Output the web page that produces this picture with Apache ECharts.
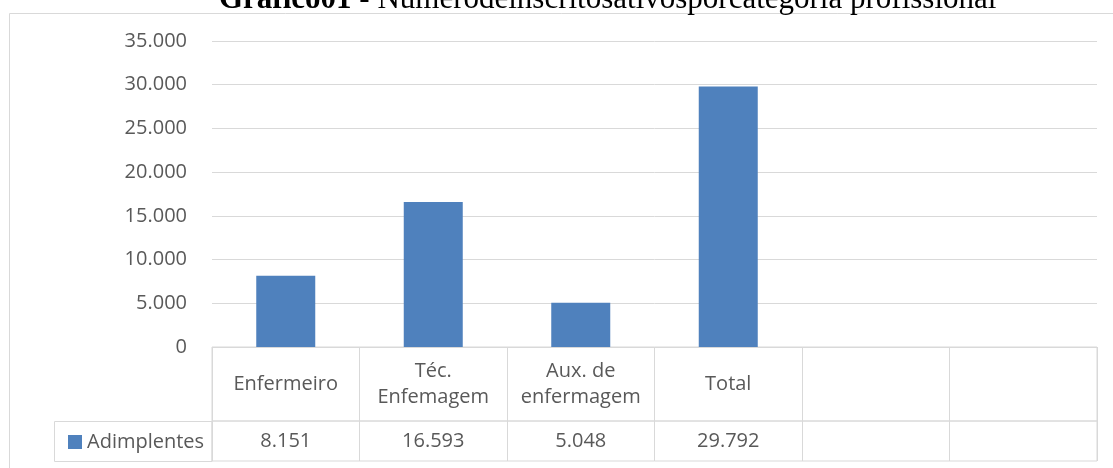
<!DOCTYPE html>
<html>
<head>
<meta charset="utf-8">
<script src="https://cdn.jsdelivr.net/npm/echarts@6/dist/echarts.min.js"></script>
<style>
  html, body { margin: 0; padding: 0; background: #fff; }
  #chart { width: 1113px; height: 468px; }
</style>
</head>
<body>
<div id="chart"></div>
<script>
// chart data
var categories = ['Enfermeiro', 'Téc.\nEnfemagem', 'Aux. de\nenfermagem', 'Total', '', ''];
var adimplentes = [8151, 16593, 5048, 29792, null, null];
var yTicks = [0, 5000, 10000, 15000, 20000, 25000, 30000, 35000];
var seriesName = 'Adimplentes';

var gray = '#595959';
var lineColor = '#d9d9d9';
var barColor = '#4f81bd';
var font = '"Open Sans", "Noto Sans", sans-serif';

function fmt(v) {
  if (v === null || v === undefined) return '';
  return String(v).replace(/\B(?=(\d{3})+(?!\d))/g, '.');
}

var chart = echarts.init(document.getElementById('chart'));
chart.setOption({
  animation: false,
  title: {
    text: '{b|Gráfico01} - Númerodeinscritosativosporcategoria profissional',
    left: 219,
    top: -16,
    padding: 0,
    textStyle: {
      fontFamily: '"Liberation Serif", "Times New Roman", serif',
      fontSize: 31,
      fontWeight: 'normal',
      color: '#000',
      rich: {
        b: { fontFamily: '"Liberation Serif", serif', fontSize: 31, fontWeight: 'bold', color: '#000' }
      }
    }
  },
  legend: {
    data: [seriesName],
    left: 63,
    top: 427,
    itemWidth: 14,
    itemHeight: 14,
    itemGap: 0,
    icon: 'rect',
    textStyle: { fontFamily: font, fontSize: 20, color: gray, padding: [0, 0, 0, 0] }
  },
  grid: [
    { left: 212, right: 16, top: 41, bottom: 121 },
    { left: 212, right: 16, top: 347, height: 74, show: true, borderColor: lineColor, borderWidth: 1 },
    { left: 212, right: 16, top: 421, height: 40, show: true, borderColor: lineColor, borderWidth: 1 }
  ],
  xAxis: [
    {
      type: 'category', gridIndex: 0, data: categories,
      axisLine: { show: false }, axisTick: { show: false }, axisLabel: { show: false }
    },
    {
      type: 'category', gridIndex: 1, data: categories,
      axisLine: { show: false }, axisTick: { show: false },
      splitLine: { show: true, interval: 0, lineStyle: { color: lineColor, width: 1 } },
      axisLabel: {
        inside: true, margin: 37, verticalAlign: 'middle', interval: 0,
        fontFamily: font, fontSize: 20, color: gray, lineHeight: 26, align: 'center'
      }
    },
    {
      type: 'category', gridIndex: 2, data: categories,
      axisLine: { show: false }, axisTick: { show: false },
      splitLine: { show: true, interval: 0, lineStyle: { color: lineColor, width: 1 } },
      axisLabel: {
        inside: true, margin: 20, verticalAlign: 'middle', interval: 0,
        fontFamily: font, fontSize: 20, color: gray,
        formatter: function (v, i) { return fmt(adimplentes[i]); }
      }
    }
  ],
  yAxis: [
    {
      type: 'value', gridIndex: 0,
      min: yTicks[0], max: yTicks[yTicks.length - 1], interval: yTicks[1] - yTicks[0],
      axisLine: { show: false }, axisTick: { show: false },
      splitLine: { lineStyle: { color: lineColor, width: 1 } },
      axisLabel: { margin: 25, fontFamily: font, fontSize: 20, color: gray, formatter: fmt }
    },
    { type: 'value', gridIndex: 1, show: false },
    { type: 'value', gridIndex: 2, show: false }
  ],
  series: [{
    name: seriesName,
    type: 'bar',
    xAxisIndex: 0,
    yAxisIndex: 0,
    data: adimplentes,
    barWidth: '40%',
    itemStyle: { color: barColor }
  }],
  graphic: [
    // outer chart frame
    { type: 'line', shape: { x1: 9.5, y1: 13.5, x2: 1113, y2: 13.5 }, style: { stroke: lineColor, lineWidth: 1 } },
    { type: 'line', shape: { x1: 9.5, y1: 13.5, x2: 9.5, y2: 468 }, style: { stroke: lineColor, lineWidth: 1 } },
    // legend cell of the data table
    { type: 'rect', shape: { x: 54.5, y: 421.5, width: 157.5, height: 40 }, style: { fill: 'none', stroke: lineColor, lineWidth: 1 }, z: -1 }
  ]
});
</script>
</body>
</html>
